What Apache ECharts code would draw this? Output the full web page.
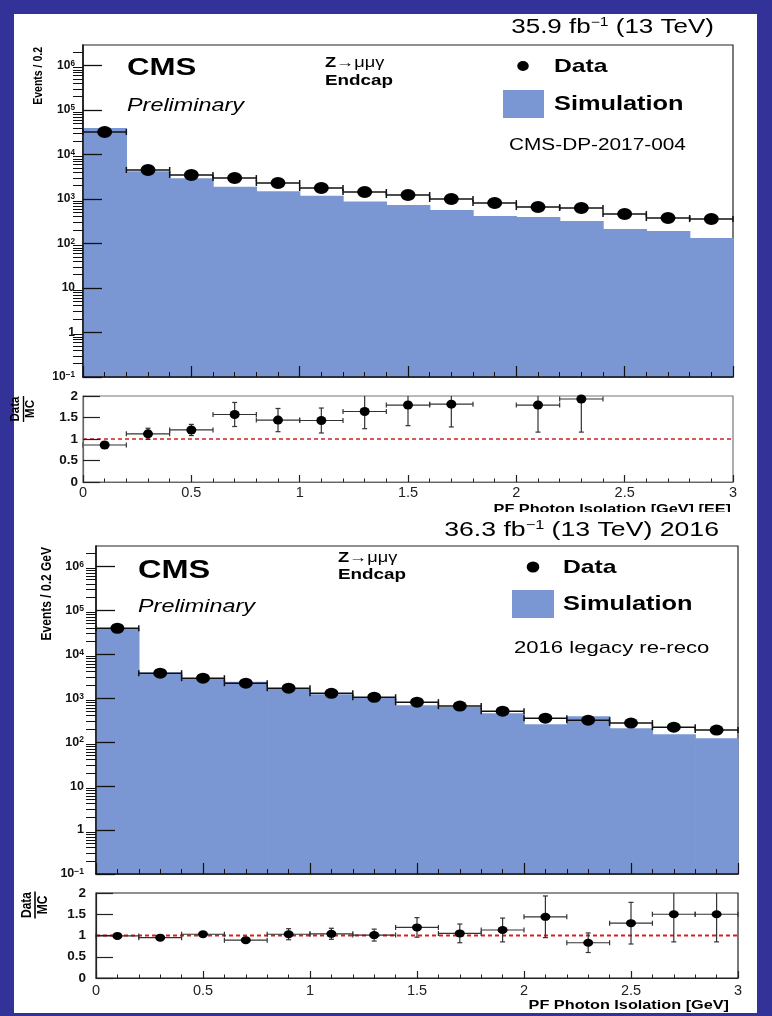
<!DOCTYPE html>
<html>
<head>
<meta charset="utf-8">
<title>PF Photon Isolation - Z to mu mu gamma, Endcap</title>
<script src="https://cdn.jsdelivr.net/npm/echarts@6.0.0/dist/echarts.min.js"></script>
<style>
html,body{margin:0;padding:0;background:#323298;}
#chart{width:772px;height:1016px;}
</style>
</head>
<body>
<div id="chart"></div>
<script>
// ------------------------------------------------------------------ data
const binEdges   = [0, 0.2, 0.4, 0.6, 0.8, 1.0, 1.2, 1.4, 1.6, 1.8, 2.0, 2.2, 2.4, 2.6, 2.8, 3.0];
const binCenters = [0.1, 0.3, 0.5, 0.7, 0.9, 1.1, 1.3, 1.5, 1.7, 1.9, 2.1, 2.3, 2.5, 2.7, 2.9];

// upper figure (CMS-DP-2017-004)
const dp2017Data     = [32000, 4500, 3470, 2960, 2290, 1770, 1440, 1230, 1000, 810, 660, 630, 460, 375, 355];
const dp2017Sim      = [39400, 4200, 2950, 1880, 1500, 1180, 880, 733, 566, 415, 394, 320, 212, 191, 133];
const dp2017Ratio    = [0.86, 1.12, 1.21, 1.57, 1.44, 1.43, 1.64, 1.79, 1.81, null, 1.79, 1.93, null, null, null];
const dp2017RatioErr = [0.03, 0.13, 0.13, 0.28, 0.27, 0.29, 0.40, 0.48, 0.53, null, 0.63, 0.77, null, null, null];

// lower figure (2016 legacy re-reco)
const legacyData     = [39000, 3700, 2850, 2190, 1690, 1290, 1050, 810, 660, 505, 351, 316, 272, 219, 188];
const legacySim      = [39000, 3850, 2770, 2380, 1640, 1230, 1040, 692, 630, 457, 256, 390, 208, 151, 123];
const legacyRatio    = [0.99, 0.95, 1.03, 0.89, 1.03, 1.04, 1.01, 1.19, 1.05, 1.13, 1.44, 0.83, 1.29, 1.50, 1.50];
const legacyRatioErr = [0.02, 0.03, 0.05, 0.04, 0.13, 0.13, 0.14, 0.23, 0.22, 0.28, 0.49, 0.23, 0.49, 0.65, 0.65];

const yDecadeTicks = [0.1, 1, 10, 100, 1000, 10000, 100000, 1000000];
const yMinorFactors = [2, 3, 4, 5, 6, 7, 8, 9];
const ratioReference = 1;

// ------------------------------------------------------------------ style
const FONT = '"Liberation Sans", Arial, Helvetica, sans-serif';
const SIM_COLOR = '#7b97d3';
const STRETCH = 1.3;           // the reference picture is stretched horizontally
const Y_MIN = 0.1, Y_MAX = 2.9e6;

const yMinorTicks = [];
yDecadeTicks.forEach(d => yMinorFactors.forEach(f => { if (d * f < Y_MAX) yMinorTicks.push(d * f); }));

function decadeLabel(v) {
  const lg = Math.log10(v), e = Math.round(lg);
  if (Math.abs(lg - e) > 1e-6) return '';
  if (e === 0) return '1';
  if (e === 1) return '10';
  return '10{s|' + (e < 0 ? '\u2212' : '') + Math.abs(e) + '}';
}

// ------------------------------------------------------------------ layout
const grids = [
  { left: 83, top: 45,  width: 650, height: 332 },   // upper main
  { left: 83, top: 396, width: 650, height: 86 },    // upper ratio
  { left: 96, top: 546, width: 642, height: 328 },   // lower main
  { left: 96, top: 893, width: 642, height: 85 }     // lower ratio
];

function xAxisMain(gi) {
  return { type: 'value', gridIndex: gi, min: 0, max: 3, interval: 0.5, z: 10,
    axisLine: { show: true, onZero: false, lineStyle: { color: '#111', width: 1.5 } },
    axisTick: { show: true, inside: true, length: 11, lineStyle: { color: '#111', width: 1.2 } },
    minorTick: { show: true, splitNumber: 5, length: 5, lineStyle: { color: '#111', width: 1 } },
    axisLabel: { show: false }, splitLine: { show: false }, minorSplitLine: { show: false } };
}
function xAxisRatio(gi, margin, lineColor) {
  return { type: 'value', gridIndex: gi, min: 0, max: 3, interval: 0.5, z: 10,
    axisLine: { show: true, onZero: false, lineStyle: { color: lineColor, width: 1.2 } },
    axisTick: { show: true, inside: true, length: 7, lineStyle: { color: '#222', width: 1.2 } },
    minorTick: { show: true, splitNumber: 5, length: 3.5, lineStyle: { color: '#222', width: 1 } },
    axisLabel: { show: true, margin: margin, fontSize: 14.5, fontFamily: FONT, color: '#222' },
    splitLine: { show: false }, minorSplitLine: { show: false } };
}
function yAxisMain(gi, margin, fs) {
  return { type: 'log', logBase: 10, gridIndex: gi, min: Y_MIN, max: Y_MAX, z: 10,
    axisLine: { show: true, onZero: false, lineStyle: { color: '#111', width: 1.5 } },
    axisTick: { show: true, inside: true, length: 19, customValues: yDecadeTicks, lineStyle: { color: '#111', width: 1.3 } },
    axisLabel: { show: true, customValues: yDecadeTicks, margin: margin, formatter: decadeLabel,
      fontSize: fs, fontWeight: 'bold', fontFamily: FONT, color: '#111',
      rich: { s: { fontSize: fs * 0.68, fontWeight: 'bold', fontFamily: FONT, color: '#111', verticalAlign: 'top' } } },
    splitLine: { show: false } };
}
function yAxisMinor(gi) {
  return { type: 'log', logBase: 10, gridIndex: gi, min: Y_MIN, max: Y_MAX, z: 10,
    axisLine: { show: false }, axisLabel: { show: false }, splitLine: { show: false },
    axisTick: { show: true, inside: true, length: 10, customValues: yMinorTicks, lineStyle: { color: '#111', width: 1 } } };
}
function yAxisRatio(gi, margin, lineColor) {
  return { type: 'value', gridIndex: gi, min: 0, max: 2, interval: 0.5, z: 10,
    axisLine: { show: true, onZero: false, lineStyle: { color: lineColor, width: 1.2 } },
    axisTick: { show: true, inside: true, length: 17, lineStyle: { color: '#222', width: 1.2 } },
    axisLabel: { show: true, margin: margin, fontSize: 13.5, fontWeight: 'bold', fontFamily: FONT, color: '#111' },
    splitLine: { show: false } };
}

// ------------------------------------------------------------------ series
function histSeries(xi, yi, values) {
  return { type: 'custom', xAxisIndex: xi, yAxisIndex: yi, z: 1, silent: true, animation: false,
    encode: { x: 0, y: 1 },
    data: values.map((v, i) => [binEdges[i], v, binEdges[i + 1]]),
    renderItem: (params, api) => {
      const cs = params.coordSys;
      const a = api.coord([api.value(0), api.value(1)]);
      const b = api.coord([api.value(2), api.value(1)]);
      const bottom = cs.y + cs.height;
      return { type: 'rect', shape: { x: a[0], y: a[1], width: b[0] - a[0] + 0.7, height: bottom - a[1] },
        style: { fill: SIM_COLOR } };
    } };
}
function errSeries(xi, yi, values, errs, st) {
  const data = [];
  values.forEach((v, i) => {
    if (v == null) return;
    const e = errs ? errs[i] : 0;
    data.push([binCenters[i], v, binEdges[i], binEdges[i + 1], v - e, v + e]);
  });
  return { type: 'custom', xAxisIndex: xi, yAxisIndex: yi, z: 3, silent: true, animation: false,
    encode: { x: 0, y: 1 }, data: data,
    renderItem: (params, api) => {
      const cs = params.coordSys, top = cs.y, bot = cs.y + cs.height;
      const y = api.value(1);
      const l = api.coord([api.value(2), y]), r = api.coord([api.value(3), y]);
      const ls = { stroke: st.color, lineWidth: st.width };
      const c = st.cap;
      const ch = [
        { type: 'line', shape: { x1: l[0], y1: l[1], x2: r[0], y2: r[1] }, style: ls },
        { type: 'line', shape: { x1: l[0], y1: l[1] - c, x2: l[0], y2: l[1] + c }, style: ls },
        { type: 'line', shape: { x1: r[0], y1: r[1] - c, x2: r[0], y2: r[1] + c }, style: ls }
      ];
      if (errs) {
        const lo = api.coord([api.value(0), api.value(4)]);
        const hi = api.coord([api.value(0), api.value(5)]);
        const yHi = Math.max(hi[1], top), yLo = Math.min(lo[1], bot);
        ch.push({ type: 'line', shape: { x1: lo[0], y1: yLo, x2: lo[0], y2: yHi }, style: ls });
        if (hi[1] >= top) ch.push({ type: 'line', shape: { x1: hi[0] - c, y1: hi[1], x2: hi[0] + c, y2: hi[1] }, style: ls });
        if (lo[1] <= bot) ch.push({ type: 'line', shape: { x1: lo[0] - c, y1: lo[1], x2: lo[0] + c, y2: lo[1] }, style: ls });
      }
      return { type: 'group', children: ch };
    } };
}
function pointSeries(xi, yi, values, size) {
  const data = [];
  values.forEach((v, i) => { if (v != null) data.push([binCenters[i], v]); });
  return { type: 'scatter', xAxisIndex: xi, yAxisIndex: yi, z: 4, silent: true, animation: false,
    symbol: 'circle', symbolSize: size, itemStyle: { color: '#000', opacity: 1 }, data: data };
}
function refLine(xi, yi, width) {
  return { type: 'line', xAxisIndex: xi, yAxisIndex: yi, z: 2, silent: true, animation: false,
    symbol: 'none', data: [[binEdges[0], ratioReference], [binEdges[binEdges.length - 1], ratioReference]],
    lineStyle: { color: '#d42020', width: width, type: [4, 3] } };
}

// ------------------------------------------------------------------ texts
function T(x, y, text, o) {
  o = o || {};
  const align = o.align || 'left', va = o.va || 'middle';
  const el = { type: 'text', x: x, y: y, z: o.z || 20, silent: true,
    scaleX: o.sx == null ? STRETCH : o.sx, scaleY: o.sy == null ? 1 : o.sy, rotation: o.rot || 0,
    style: { x: 0, y: 0, text: text, fill: o.color || '#000', fontSize: o.size, fontWeight: o.weight || 'normal',
      fontStyle: o.italic ? 'italic' : 'normal', fontFamily: FONT,
      align: align, verticalAlign: va, textAlign: align, textVerticalAlign: va } };
  if (o.rich) el.style.rich = o.rich;
  return el;
}
function supRich(size) {
  return { s: { fontSize: size, fontFamily: FONT, fill: '#000', color: '#000', verticalAlign: 'top' } };
}
function zRich(size) {
  return { b: { fontSize: size, fontWeight: 'bold', fontFamily: FONT, fill: '#000', color: '#000' },
           g: { fontSize: size, fontWeight: 'normal', fontFamily: FONT, fill: '#000', color: '#000' } };
}
function fraction(x, y, size, len, sy) {
  return { type: 'group', x: x, y: y, rotation: Math.PI / 2, scaleY: sy, z: 20, silent: true, children: [
    { type: 'text', x: 0, y: -1, style: { x: 0, y: 0, text: 'Data', fontSize: size, fontWeight: 'bold', fontFamily: FONT, fill: '#000',
      align: 'center', verticalAlign: 'bottom', textAlign: 'center', textVerticalAlign: 'bottom' } },
    { type: 'line', shape: { x1: -len / 2, y1: 0, x2: len / 2, y2: 0 }, style: { stroke: '#000', lineWidth: 1.3 } },
    { type: 'text', x: 0, y: 1, style: { x: 0, y: 0, text: 'MC', fontSize: size, fontWeight: 'bold', fontFamily: FONT, fill: '#000',
      align: 'center', verticalAlign: 'top', textAlign: 'center', textVerticalAlign: 'top' } }
  ] };
}
function dot(x, y, r) {
  return { type: 'circle', x: x, y: y, scaleX: 1.15, z: 20, silent: true, shape: { cx: 0, cy: 0, r: r }, style: { fill: '#000' } };
}
function box(x, y, w, h, fill, z) {
  return { type: 'rect', z: z, silent: true, shape: { x: x, y: y, width: w, height: h }, style: { fill: fill } };
}

const graphics = [
  box(14, 14, 743, 999, '#ffffff', -100),
  // ---- upper figure
  T(714, 27, '35.9 fb{s|\u22121} (13 TeV)', { size: 20, align: 'right', rich: supRich(12) }),
  T(127, 68, 'CMS', { size: 24, weight: 'bold' }),
  T(127, 106, 'Preliminary', { size: 18, italic: true }),
  T(325, 63, '{b|Z\u2192}{g|\u03bc\u03bc\u03b3}', { size: 14, rich: zRich(14) }),
  T(325, 81, 'Endcap', { size: 14.5, weight: 'bold' }),
  dot(523, 66, 5),
  T(554, 67, 'Data', { size: 19, weight: 'bold' }),
  box(503, 90, 41, 28, SIM_COLOR, 20),
  T(554, 105, 'Simulation', { size: 19.5, weight: 'bold' }),
  T(509, 146, 'CMS-DP-2017-004', { size: 16 }),
  T(38, 47, 'Events / 0.2', { size: 10.5, weight: 'bold', rot: Math.PI / 2, sx: 1, sy: 1.25, align: 'right' }),
  fraction(23.5, 409, 11.5, 26, 1.05),
  T(731, 509, 'PF Photon Isolation [GeV] [EE]', { size: 13, weight: 'bold', align: 'right', sx: 1.25, z: 20 }),
  box(380, 512, 377, 7, '#ffffff', 21),
  // ---- lower figure
  T(719, 530, '36.3 fb{s|\u22121} (13 TeV) 2016', { size: 20.5, align: 'right', rich: supRich(12.5) }),
  T(138, 571, 'CMS', { size: 25, weight: 'bold' }),
  T(138, 607, 'Preliminary', { size: 18, italic: true }),
  T(338, 558, '{b|Z\u2192}{g|\u03bc\u03bc\u03b3}', { size: 14, rich: zRich(14) }),
  T(338, 575, 'Endcap', { size: 14.5, weight: 'bold' }),
  dot(533, 567, 5.5),
  T(563, 568, 'Data', { size: 19, weight: 'bold' }),
  box(512, 590, 42, 28, SIM_COLOR, 20),
  T(563, 605, 'Simulation', { size: 19.5, weight: 'bold' }),
  T(514, 648, '2016 legacy re-reco', { size: 17 }),
  T(47, 547, 'Events / 0.2 GeV', { size: 12, weight: 'bold', rot: Math.PI / 2, sx: 1, sy: 1.2, align: 'right' }),
  fraction(35, 905, 12, 27, 1.2),
  T(729, 1005, 'PF Photon Isolation [GeV]', { size: 13, weight: 'bold', align: 'right', sx: 1.25 })
];

// ------------------------------------------------------------------ option
const option = {
  backgroundColor: '#323298',
  animation: false,
  grid: grids.map((g, i) => Object.assign({ show: true, borderColor: i === 1 ? '#777' : '#222', borderWidth: 1.2,
    backgroundColor: 'rgba(0,0,0,0)', containLabel: false }, g)),
  xAxis: [ xAxisMain(0), xAxisRatio(1, 3, '#666'), xAxisMain(2), xAxisRatio(3, 5, '#222') ],
  yAxis: [ yAxisMain(0, 8, 12), yAxisMinor(0), yAxisRatio(1, 5, '#666'),
           yAxisMain(2, 12, 12.5), yAxisMinor(2), yAxisRatio(3, 10, '#222') ],
  graphic: { elements: graphics },
  series: [
    histSeries(0, 0, dp2017Sim),
    errSeries(0, 0, dp2017Data, null, { color: '#111', width: 1.5, cap: 3 }),
    pointSeries(0, 0, dp2017Data, [15, 12]),
    refLine(1, 2, 1.3),
    errSeries(1, 2, dp2017Ratio, dp2017RatioErr, { color: '#333', width: 1.2, cap: 2.5 }),
    pointSeries(1, 2, dp2017Ratio, [10, 9]),

    histSeries(2, 3, legacySim),
    errSeries(2, 3, legacyData, null, { color: '#111', width: 1.5, cap: 3 }),
    pointSeries(2, 3, legacyData, [14, 11]),
    refLine(3, 5, 1.8),
    errSeries(3, 5, legacyRatio, legacyRatioErr, { color: '#333', width: 1.2, cap: 2.5 }),
    pointSeries(3, 5, legacyRatio, [10, 8])
  ]
};

const chart = echarts.init(document.getElementById('chart'), null, { renderer: 'canvas' });
chart.setOption(option);
</script>
</body>
</html>
